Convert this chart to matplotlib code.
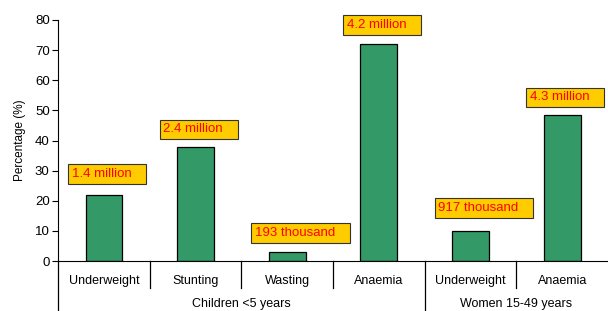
import numpy as np
import matplotlib.pyplot as plt
import matplotlib.transforms as mtransforms

plt.rcParams['font.family'] = ['Liberation Sans', 'DejaVu Sans']

# data
categories = ["Underweight", "Stunting", "Wasting", "Anaemia", "Underweight", "Anaemia"]
values = [22, 37.7, 3, 72, 10, 48.3]
counts = ["1.4 million", "2.4 million", "193 thousand", "4.2 million", "917 thousand", "4.3 million"]
label_y = [28.9, 43.7, 9.3, 78.3, 17.6, 54.3]
groups = ["Children <5 years", "Women 15-49 years"]
group_spans = [(0, 4), (4, 6)]

x = np.arange(len(categories))

fig = plt.figure(figsize=(6.08, 3.11), dpi=100)
ax = fig.add_axes([58 / 608, 1 - 261 / 311, 550 / 608, 241 / 311])

ax.bar(x, values, width=0.4, color="#339966", edgecolor="black", linewidth=0.9, zorder=2)

for xi, lab, ly in zip(x, counts, label_y):
    ax.text(xi - 0.35, ly, lab + "   ", color="#FF0000", fontsize=9.5, ha="left", va="center",
            bbox=dict(boxstyle="square,pad=0.28", fc="#FFCC00", ec="#333333", lw=0.8), zorder=3)

ax.set_xlim(-0.5, 5.5)
ax.set_ylim(0, 80)
ax.set_yticks(range(0, 81, 10))
ax.set_xticks([])
ax.tick_params(axis="y", labelsize=9.5, length=4, direction="out", pad=2)
ax.set_ylabel("Percentage (%)", fontsize=8.5, labelpad=6)

for s in ["top", "right"]:
    ax.spines[s].set_visible(False)
ax.spines["left"].set_bounds(0, 80)

trans = mtransforms.blended_transform_factory(ax.transData, ax.transAxes)

# category labels
for xi, c in zip(x, categories):
    ax.text(xi, -0.083, c, transform=trans, ha="center", va="center", fontsize=9)

# separators
for b in [0.5, 1.5, 2.5, 4.5]:
    ax.plot([b, b], [0, -0.112], transform=trans, color="black", lw=0.9, clip_on=False)
for b in [-0.5, 3.5]:
    ax.plot([b, b], [0, -0.21], transform=trans, color="black", lw=0.9, clip_on=False)

# group labels
for g, (a, b) in zip(groups, group_spans):
    ax.text((a + b) / 2 - 0.5, -0.178, g, transform=trans, ha="center", va="center", fontsize=9)

fig.savefig("out.png", dpi=100)
